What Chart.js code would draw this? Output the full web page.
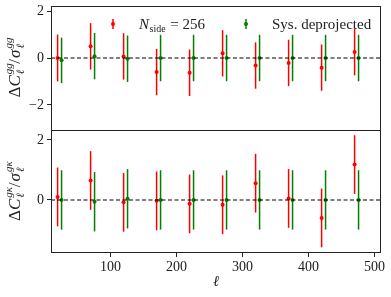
<!DOCTYPE html>
<html>
<head>
<meta charset="utf-8">
<script src="https://cdn.jsdelivr.net/npm/chart.js@4/dist/chart.umd.min.js"></script>
<style>
html, body { margin: 0; padding: 0; background: #fff; }
</style>
</head>
<body>
<canvas id="myChart" width="391" height="297"></canvas>
<script>
// multipoles of the bins, red and green are shifted a bit
const ellRed = [20, 70, 120, 170, 220, 270, 320, 370, 420, 470]
const ellGreen = [26, 76, 126, 176, 226, 276, 326, 376, 426, 476]

// top panel: gg
const ggRed = [0.0, 0.5, 0.07, -0.6, -0.63, 0.2, -0.32, -0.21, -0.41, 0.26]
const ggRedErr = [1.0, 0.99, 0.99, 0.99, 0.99, 0.99, 0.99, 0.99, 0.99, 1.0]
const ggGreen = [-0.1, 0.08, -0.03, 0.0, 0.0, 0.0, 0.0, 0.0, 0.0, 0.0]
const ggGreenErr = [0.97, 0.99, 0.99, 0.99, 0.99, 0.99, 0.99, 0.99, 0.99, 0.99]

// bottom panel: g kappa
const gkRed = [0.1, 0.65, -0.08, -0.03, -0.13, -0.16, 0.56, 0.05, -0.6, 1.18]
const gkRedErr = [0.98, 0.98, 0.98, 0.98, 0.98, 0.98, 0.98, 0.98, 0.98, 0.98]
const gkGreen = [0.0, -0.06, 0.04, 0.0, 0.0, 0.0, 0.0, 0.0, 0.0, 0.0]
const gkGreenErr = [0.99, 0.99, 0.99, 0.99, 0.99, 0.99, 0.99, 0.99, 0.99, 0.99]

const xTicks = [100, 200, 300, 400, 500]
const ggTicks = [-2, 0, 2]
const gkTicks = [0, 2]

const RED = '#ff0000'
const GREEN = '#008000'
const SERIF = '"Liberation Serif", "DejaVu Serif", serif'

const pts = (xs, ys) => xs.map((x, i) => ({x: x, y: ys[i]}))

const scatterSet = (xs, ys, errs, color, axis) => ({
    type: 'scatter',
    data: pts(xs, ys),
    errs: errs,
    yAxisID: axis,
    backgroundColor: color,
    borderColor: color,
    pointRadius: 2,
    pointHoverRadius: 2,
    borderWidth: 0,
    order: 1
})

const zeroLine = (axis) => ({
    type: 'line',
    data: [{x: 10, y: 0}, {x: 510, y: 0}],
    yAxisID: axis,
    borderColor: '#000',
    borderWidth: 1.1,
    borderDash: [4, 2.5],
    pointRadius: 0,
    order: 0
})

// vertical error bars, drawn under the markers
const errorBars = {
    id: 'errorBars',
    beforeDatasetsDraw(chart) {
        const ctx = chart.ctx
        const xs = chart.scales.x
        chart.data.datasets.forEach((ds) => {
            if (!ds.errs) return
            const ys = chart.scales[ds.yAxisID]
            ctx.save()
            ctx.strokeStyle = ds.borderColor
            ctx.lineWidth = 1.5
            ds.data.forEach((p, i) => {
                const px = xs.getPixelForValue(p.x)
                ctx.beginPath()
                ctx.moveTo(px, ys.getPixelForValue(p.y - ds.errs[i]))
                ctx.lineTo(px, ys.getPixelForValue(p.y + ds.errs[i]))
                ctx.stroke()
            })
            ctx.restore()
        })
    }
}

// draws a sequence of text pieces, a piece with stackNext keeps x for the next one
const drawPieces = (ctx, pieces, x, y) => {
    let cx = x
    pieces.forEach((p) => {
        ctx.font = p.font
        ctx.fillText(p.t, cx, y + (p.dy || 0))
        if (!p.stackNext) cx += ctx.measureText(p.t).width + (p.space || 0)
    })
    return cx - x
}

const piecesWidth = (ctx, pieces) => {
    let w = 0
    pieces.forEach((p) => {
        ctx.font = p.font
        if (!p.stackNext) w += ctx.measureText(p.t).width + (p.space || 0)
    })
    return w
}

const yLabel = (sup) => [
    {t: 'Δ', font: '17px ' + SERIF},
    {t: 'C', font: 'italic 17px ' + SERIF, space: 1},
    {t: sup, font: 'italic 11px ' + SERIF, dy: -8, stackNext: true},
    {t: 'ℓ', font: 'italic 11px ' + SERIF, dy: 4, space: 6},
    {t: '/', font: '17px ' + SERIF, space: 1},
    {t: 'σ', font: 'italic 17px ' + SERIF, space: 1},
    {t: sup, font: 'italic 11px ' + SERIF, dy: -8, stackNext: true},
    {t: 'ℓ', font: 'italic 11px ' + SERIF, dy: 4, space: 6}
]

const decorations = {
    id: 'decorations',
    afterDraw(chart) {
        const ctx = chart.ctx
        const area = chart.chartArea
        const top = chart.scales.yt
        const bot = chart.scales.yb
        ctx.save()
        // panel frames
        ctx.strokeStyle = '#222'
        ctx.lineWidth = 1
        const l = Math.round(area.left) + 0.5
        const r = Math.round(area.right) - 0.5
        const t = Math.round(area.top) + 0.5
        const b = Math.round(area.bottom) - 0.5
        ctx.strokeRect(l, t, r - l, b - t)
        const mid = Math.round(bot.top) + 0.5
        ctx.beginPath()
        ctx.moveTo(l, mid)
        ctx.lineTo(r, mid)
        ctx.stroke()

        ctx.fillStyle = '#222'
        ctx.textBaseline = 'alphabetic'
        ctx.textAlign = 'left'

        // y labels, rotated
        ;[[top, 'gg'], [bot, 'gκ']].forEach(([s, sup]) => {
            const pieces = yLabel(sup)
            const w = piecesWidth(ctx, pieces)
            ctx.save()
            ctx.translate(20, (s.top + s.bottom) / 2)
            ctx.rotate(-Math.PI / 2)
            drawPieces(ctx, pieces, -w / 2, 0)
            ctx.restore()
        })

        // x label
        ctx.font = 'italic 15px ' + SERIF
        ctx.textAlign = 'center'
        ctx.fillText('ℓ', (area.left + area.right) / 2, 286)
        ctx.textAlign = 'left'

        // legend
        const yy = 24
        ;[[113, RED], [246, GREEN]].forEach(([mx, c]) => {
            ctx.strokeStyle = c
            ctx.lineWidth = 1.5
            ctx.beginPath()
            ctx.moveTo(mx, yy - 5)
            ctx.lineTo(mx, yy + 5)
            ctx.stroke()
            ctx.fillStyle = c
            ctx.beginPath()
            ctx.arc(mx, yy, 2, 0, Math.PI * 2)
            ctx.fill()
        })
        ctx.fillStyle = '#222'
        drawPieces(ctx, [
            {t: 'N', font: 'italic 15px ' + SERIF, space: 0.5},
            {t: 'side', font: '10px ' + SERIF, dy: 3, space: 1},
            {t: ' = 256', font: '15px ' + SERIF}
        ], 139, 29)
        ctx.font = '15px ' + SERIF
        ctx.fillText('Sys. deprojected', 272, 29)
        ctx.restore()
    }
}

const minus = (v) => (v < 0 ? '\u2212' + Math.abs(v) : String(v))

// no extra room for the first and last tick labels
const noPad = (s) => {
    s.paddingTop = 0
    s.paddingBottom = 0
    s.paddingLeft = 0
    s.paddingRight = 0
}

const yAxis = (min, max, ticks) => ({
    type: 'linear',
    position: 'left',
    stack: 'panels',
    stackWeight: 1,
    min: min,
    max: max,
    afterBuildTicks: (s) => { s.ticks = ticks.map((v) => ({value: v})) },
    afterFit: (s) => { s.width = 51; noPad(s) },
    border: {display: false},
    grid: {drawOnChartArea: false, tickLength: 4, color: '#222', tickWidth: 1},
    ticks: {
        color: '#222',
        padding: 3,
        font: {family: SERIF, size: 14},
        callback: (v) => minus(v)
    }
})

const ctx = document.getElementById('myChart').getContext('2d')
const chart = new Chart(ctx, {
    data: {
        datasets: [
            zeroLine('yt'),
            zeroLine('yb'),
            scatterSet(ellRed, ggRed, ggRedErr, RED, 'yt'),
            scatterSet(ellGreen, ggGreen, ggGreenErr, GREEN, 'yt'),
            scatterSet(ellRed, gkRed, gkRedErr, RED, 'yb'),
            scatterSet(ellGreen, gkGreen, gkGreenErr, GREEN, 'yb')
        ]
    },
    options: {
        responsive: false,
        animation: false,
        devicePixelRatio: 1,
        layout: {padding: {left: 0, right: 10, top: 6, bottom: 0}},
        plugins: {legend: {display: false}, tooltip: {enabled: false}},
        scales: {
            x: {
                type: 'linear',
                position: 'bottom',
                min: 10,
                max: 510,
                afterBuildTicks: (s) => { s.ticks = xTicks.map((v) => ({value: v})) },
                afterFit: (s) => { s.height = 44; noPad(s) },
                border: {display: false},
                grid: {drawOnChartArea: false, tickLength: 4, color: '#222'},
                ticks: {color: '#222', padding: 2, maxRotation: 0, font: {family: SERIF, size: 14}}
            },
            // listed bottom first: the later stacked axis ends up on top
            yb: yAxis(-1.77, 2.35, gkTicks),
            yt: yAxis(-3.05, 2.22, ggTicks)
        }
    },
    plugins: [errorBars, decorations]
})
</script>
</body>
</html>
